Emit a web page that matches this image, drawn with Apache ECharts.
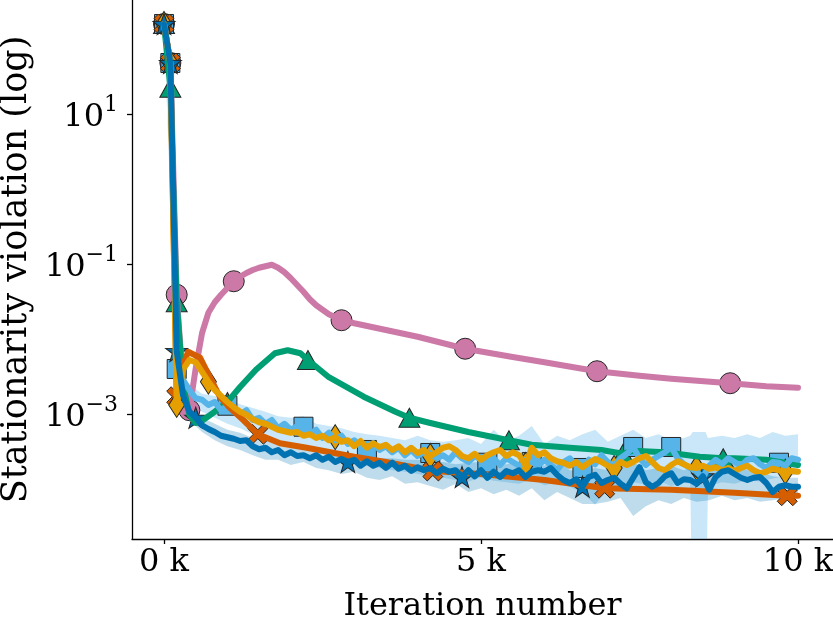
<!DOCTYPE html>
<html><head><meta charset="utf-8">
<script src="https://cdn.jsdelivr.net/npm/echarts@6/dist/echarts.min.js"></script>
<style>html,body{margin:0;padding:0;background:#fff}#c{width:833px;height:629px}</style>
</head><body><div id="c"></div>
<script>
// ---- DATA (y values are log10 of the stationarity violation) ----
const xTicks = [0, 5000, 10000];
const yTickExps = [-3, -1, 1];

const fineIters = [0,100,200,300,400,500,600,700,800,900,1000,1100,1200,1300,1400,1500,1600,1700,1800,1900,2000,2100,2200,2300,2400,2500,2600,2700,2800,2900,3000,3100,3200,3300,3400,3500,3600,3700,3800,3900,4000,4100,4200,4300,4400,4500,4600,4700,4800,4900,5000,5100,5200,5300,5400,5500,5600,5700,5800,5900,6000,6100,6200,6300,6400,6500,6600,6700,6800,6900,7000,7100,7200,7300,7400,7500,7600,7700,7800,7900,8000,8100,8200,8300,8400,8500,8600,8700,8800,8900,9000,9100,9200,9300,9400,9500,9600,9700,9800,9900,10000];

const blueExp = [2.2,1.68,-2.16,-2.75,-2.97,-3.05,-3.15,-3.20,-3.24,-3.29,
 -3.31,-3.33,-3.36,-3.35,-3.43,-3.47,-3.45,-3.51,-3.48,-3.55,
 -3.51,-3.56,-3.55,-3.59,-3.55,-3.61,-3.57,-3.64,-3.60,-3.64,
 -3.61,-3.69,-3.63,-3.69,-3.65,-3.72,-3.65,-3.73,-3.69,-3.76,
 -3.71,-3.75,-3.72,-3.79,-3.73,-3.77,-3.75,-3.84,-3.75,-3.83,
 -3.75,-3.85,-3.77,-3.84,-3.76,-3.79,-3.75,-3.84,-3.77,-3.75,
 -3.77,-3.72,-3.81,-3.88,-3.92,-3.87,-3.97,-3.84,-3.81,-3.92,
 -3.88,-3.85,-3.93,-3.99,-3.85,-3.71,-3.91,-3.97,-3.92,-3.83,
 -3.79,-3.92,-3.87,-3.88,-3.93,-3.83,-4.01,-3.84,-3.77,-3.75,
 -3.80,-3.85,-3.88,-3.85,-3.84,-3.92,-4.04,-3.97,-3.95,-3.97,
 -3.97];
const blueMarks = [0,1,2,5,29,47,66,85];

const goldExp = [2.2,1.68,-2.88,-2.41,-2.28,-2.31,-2.44,-2.57,-2.68,-2.76,
 -2.84,-2.91,-2.97,-3.01,-3.07,-3.11,-3.13,-3.17,-3.21,-3.23,
 -3.25,-3.24,-3.29,-3.27,-3.32,-3.29,-3.35,-3.31,-3.37,-3.35,
 -3.43,-3.36,-3.45,-3.39,-3.44,-3.41,-3.48,-3.43,-3.51,-3.45,
 -3.52,-3.48,-3.56,-3.51,-3.45,-3.43,-3.48,-3.56,-3.59,-3.53,
 -3.61,-3.55,-3.51,-3.48,-3.56,-3.51,-3.55,-3.68,-3.45,-3.55,
 -3.51,-3.59,-3.63,-3.65,-3.69,-3.64,-3.71,-3.65,-3.60,-3.64,
 -3.69,-3.72,-3.64,-3.68,-3.64,-3.59,-3.56,-3.64,-3.72,-3.75,
 -3.68,-3.63,-3.67,-3.71,-3.72,-3.69,-3.73,-3.71,-3.75,-3.72,
 -3.76,-3.72,-3.69,-3.75,-3.79,-3.77,-3.73,-3.75,-3.77,-3.76,
 -3.77];
const goldMarks = [0,1,2,7,27,42,57,71,84,98];

const skyExp = [2.2,1.68,-2.40,-2.55,-2.68,-2.79,-2.81,-2.88,-2.84,-2.95,
 -2.89,-2.97,-3.01,-2.95,-3.08,-3.05,-3.13,-3.08,-3.19,-3.13,
 -3.21,-3.16,-3.17,-3.27,-3.21,-3.32,-3.25,-3.35,-3.29,-3.40,
 -3.35,-3.43,-3.48,-3.39,-3.48,-3.43,-3.51,-3.45,-3.55,-3.48,
 -3.56,-3.51,-3.52,-3.59,-3.55,-3.61,-3.51,-3.59,-3.64,-3.56,
 -3.61,-3.65,-3.59,-3.68,-3.59,-3.64,-3.69,-3.61,-3.64,-3.69,
 -3.61,-3.68,-3.75,-3.64,-3.59,-3.69,-3.72,-3.61,-3.67,-3.55,
 -3.64,-3.69,-3.59,-3.53,-3.44,-3.59,-3.68,-3.61,-3.56,-3.51,
 -3.44,-3.59,-3.67,-3.72,-3.77,-3.85,-3.69,-3.61,-3.67,-3.59,
 -3.64,-3.69,-3.61,-3.59,-3.67,-3.72,-3.64,-3.65,-3.69,-3.59,
 -3.61];
const skyMarks = [0,1,2,10,22,32,42,51,58,66,74,80,97];

const pinkIters = [0,100,200,300,400,500,600,700,800,900,1000,1100,1200,1300,1400,1500,1600,1700,1800,1900,2000,2100,2200,2300,2400,2500,2600,2700,2800,3000,3500,4000,4750,5500,6000,6830,7500,8000,8930,9500,10000];
const pinkExp = [2.2,1.68,-1.41,-2.61,-2.95,-2.39,-1.92,-1.65,-1.51,-1.41,-1.32,-1.23,-1.17,-1.12,-1.08,-1.05,-1.03,-1.01,-1.05,-1.11,-1.19,-1.28,-1.37,-1.47,-1.55,-1.61,-1.67,-1.71,-1.75,-1.79,-1.88,-1.97,-2.13,-2.24,-2.31,-2.43,-2.49,-2.53,-2.59,-2.63,-2.65];
const pinkMarks = [0,1,2,4,11,28,32,35,38];

const greenIters = [0,100,200,300,400,500,600,800,1000,1200,1450,1750,1950,2150,2270,2600,3150,3650,3870,4200,4800,5440,5800,6400,6900,7240,7400,7900,8450,8820,9000,9500,10000];
const greenExp = [2.2,1.35,-1.51,-2.61,-3.01,-3.12,-3.09,-2.97,-2.84,-2.64,-2.41,-2.19,-2.15,-2.19,-2.28,-2.51,-2.77,-2.97,-3.05,-3.12,-3.24,-3.35,-3.41,-3.45,-3.48,-3.53,-3.49,-3.51,-3.57,-3.59,-3.59,-3.61,-3.68];
const greenMarks = [0,1,2,8,14,18,21,25,29];

const vermIters = [0,100,200,300,380,570,730,880,1040,1250,1480,1830,2250,3000,3500,4240,5000,6000,6950,8000,9000,9830,10000];
const vermExp = [2.2,1.68,-2.77,-2.35,-2.17,-2.25,-2.52,-2.77,-2.92,-3.08,-3.27,-3.39,-3.45,-3.57,-3.64,-3.76,-3.80,-3.88,-3.99,-4.01,-4.05,-4.09,-4.09];
const vermMarks = [0,1,2,10,15,18,21];

// shaded spread bands
const skyBandIters = [0,200,400,600,800,1000,1200,1400,1600,1800,2000,2200,2400,2600,2800,3000,3200,3400,3600,3800,4000,4200,4400,4600,4800,5000,5200,5400,5600,5800,6000,6200,6400,6600,6800,7000,7200,7400,7600,7800,8000,8200,8300,8340,8540,8580,8800,9000,9200,9400,9600,9800,10000];
const skyBandHi = [2.2,-2.28,-2.61,-2.73,-2.76,-2.79,-2.87,-2.92,-2.97,-3.03,-3.05,-3.03,-3.13,-3.16,-3.19,-3.24,-3.27,-3.29,-3.32,-3.35,-3.29,-3.35,-3.37,-3.35,-3.32,-3.40,-3.21,-3.37,-3.29,-3.16,-3.40,-3.29,-3.35,-3.27,-3.21,-3.37,-3.29,-3.21,-3.32,-3.27,-3.35,-3.32,-3.29,-3.24,-3.24,-3.32,-3.29,-3.32,-3.27,-3.32,-3.24,-3.29,-3.27];
const skyBandLo = [2.2,-2.55,-2.84,-2.97,-3.05,-3.13,-3.19,-3.27,-3.32,-3.35,-3.43,-3.45,-3.51,-3.55,-3.61,-3.64,-3.69,-3.72,-3.75,-3.77,-3.80,-3.83,-3.85,-3.88,-3.90,-3.85,-3.89,-3.91,-3.93,-3.87,-3.95,-3.91,-3.97,-4.05,-4.21,-3.99,-3.96,-3.91,-3.94,-3.89,-3.96,-3.91,-3.93,-6.0,-6.0,-3.96,-3.91,-3.93,-3.88,-3.90,-3.86,-3.83,-3.81];

const blueBandIters = [0,200,400,600,800,1000,1200,1400,1600,1800,2000,2200,2400,2600,2800,3000,3200,3400,3600,3800,4000,4200,4400,4600,4800,5000,5200,5400,5600,5800,6000,6200,6400,6600,6800,7000,7200,7400,7600,7800,8000,8200,8400,8600,8800,9000,9200,9400,9600,9800,10000];
const blueBandHi = [2.2,-2.01,-2.88,-3.05,-3.13,-3.21,-3.25,-3.32,-3.35,-3.40,-3.43,-3.45,-3.48,-3.51,-3.53,-3.55,-3.56,-3.59,-3.59,-3.61,-3.61,-3.64,-3.64,-3.67,-3.65,-3.64,-3.68,-3.67,-3.64,-3.67,-3.69,-3.59,-3.75,-3.77,-3.72,-3.75,-3.69,-3.64,-3.75,-3.72,-3.69,-3.75,-3.69,-3.77,-3.72,-3.68,-3.75,-3.77,-3.83,-3.85,-3.85];
const blueBandLo = [2.2,-2.31,-3.08,-3.24,-3.35,-3.43,-3.48,-3.55,-3.61,-3.61,-3.68,-3.64,-3.72,-3.75,-3.80,-3.77,-3.85,-3.88,-3.83,-3.93,-3.91,-3.96,-4.01,-3.93,-4.04,-3.99,-4.07,-4.01,-4.09,-3.99,-4.15,-4.04,-4.12,-4.20,-4.20,-4.17,-4.12,-4.36,-4.23,-4.15,-4.20,-4.12,-4.17,-4.15,-4.09,-4.15,-4.12,-4.17,-4.15,-4.12,-4.09];

// ---- STYLE ----
const FONT = 'DejaVu Serif';
const C = { pink:'#CC79A7', green:'#009E73', sky:'#56B4E9', gold:'#E69F00', verm:'#D55E00', blue:'#0072B2' };
const starPath = 'path://M0,-100 L23.5,-32.4 L95.1,-30.9 L38,12.4 L58.8,80.9 L0,40 L-58.8,80.9 L-38,12.4 L-95.1,-30.9 L-23.5,-32.4 Z';
const xPath = 'path://M0,40 L-50,90 L-90,50 L-40,0 L-90,-50 L-50,-90 L0,-40 L50,-90 L90,-50 L40,0 L90,50 L50,90 Z';

function pairs(iters, vals) { return iters.map((x, k) => [x, vals[k]]); }
function lineSeries(iters, vals, color) {
  return { type:'line', data: pairs(iters, vals), showSymbol:false, symbol:'none',
    lineStyle:{ color: color, width: 6, cap:'round', join:'round' }, itemStyle:{color}, silent:true, animation:false, clip:true };
}
function markSeries(iters, vals, idx, color, symbol, size) {
  return { type:'scatter', data: idx.map(k => [iters[k], vals[k]]), symbol: symbol, symbolSize: size,
    itemStyle:{ color: color, borderColor:'#262626', borderWidth:1, opacity:1 }, silent:true, animation:false, clip:false };
}
function bandSeries(iters, hi, lo, color, op) {
  return { type:'custom', silent:true, clip:true, animation:false,
    data:[[iters[0], hi[0]]], encode:{x:0, y:1},
    renderItem: function (params, api) {
      const pts = [];
      for (let k = 0; k < iters.length; k++) pts.push(api.coord([iters[k], hi[k]]));
      for (let k = iters.length - 1; k >= 0; k--) pts.push(api.coord([iters[k], lo[k]]));
      return { type:'polygon', shape:{ points: pts }, style:{ fill: color, opacity: op } };
    } };
}
function supText(e) { return e < 0 ? '\u2212' + (-e) : String(e); }

const chart = echarts.init(document.getElementById('c'), null, { renderer:'canvas' });
chart.setOption({
  animation:false,
  backgroundColor:'#fff',
  textStyle:{ fontFamily: FONT },
  grid:{ left:132, right:0, top:0, bottom:90, containLabel:false, outerBoundsMode:'none' },
  xAxis:{ type:'value', min:-505, max:10552,
    axisLine:{ show:true, onZero:false, lineStyle:{ color:'#000', width:1.3 } },
    axisTick:{ show:true, customValues: xTicks, length:5, lineStyle:{ color:'#000', width:1.3 } },
    axisLabel:{ customValues: xTicks, formatter: v => Math.round(v/1000) + ' k', fontFamily: FONT, fontSize:32, color:'#000', margin:8 },
    splitLine:{ show:false },
    name:'Iteration number', nameLocation:'middle', nameGap:52,
    nameTextStyle:{ fontFamily: FONT, fontSize:32, color:'#000' } },
  yAxis:{ type:'value', min:-4.667, max:2.52,
    axisLine:{ show:true, onZero:false, lineStyle:{ color:'#000', width:1.3 } },
    axisTick:{ show:true, customValues: yTickExps, length:5, lineStyle:{ color:'#000', width:1.3 } },
    axisLabel:{ customValues: yTickExps, margin:14,
      formatter: v => '{b|10}{s|' + supText(Math.round(v)) + '}',
      rich:{ b:{ fontFamily: FONT, fontSize:32, color:'#000', lineHeight:40, verticalAlign:'bottom' },
             s:{ fontFamily: FONT, fontSize:22, color:'#000', lineHeight:24, verticalAlign:'top' } } },
    splitLine:{ show:false },
    name:'Stationarity violation (log)', nameLocation:'middle', nameGap:86, nameRotate:90,
    nameTextStyle:{ fontFamily: FONT, fontSize:35, color:'#000' } },
  series:[
    bandSeries(skyBandIters, skyBandHi, skyBandLo, C.sky, 0.32),
    bandSeries(blueBandIters, blueBandHi, blueBandLo, C.blue, 0.25),
    lineSeries(pinkIters, pinkExp, C.pink),
    markSeries(pinkIters, pinkExp, pinkMarks, C.pink, 'circle', 21),
    lineSeries(greenIters, greenExp, C.green),
    markSeries(greenIters, greenExp, greenMarks, C.green, 'triangle', [21, 19]),
    lineSeries(fineIters, skyExp, C.sky),
    markSeries(fineIters, skyExp, skyMarks, C.sky, 'rect', 19),
    lineSeries(vermIters, vermExp, C.verm),
    markSeries(vermIters, vermExp, vermMarks, C.verm, xPath, 20),
    lineSeries(fineIters, goldExp, C.gold),
    markSeries(fineIters, goldExp, goldMarks, C.gold, 'diamond', [16, 25]),
    lineSeries(fineIters, blueExp, C.blue),
    markSeries(fineIters, blueExp, blueMarks, C.blue, starPath, [22, 21])
  ]
});
</script></body></html>
